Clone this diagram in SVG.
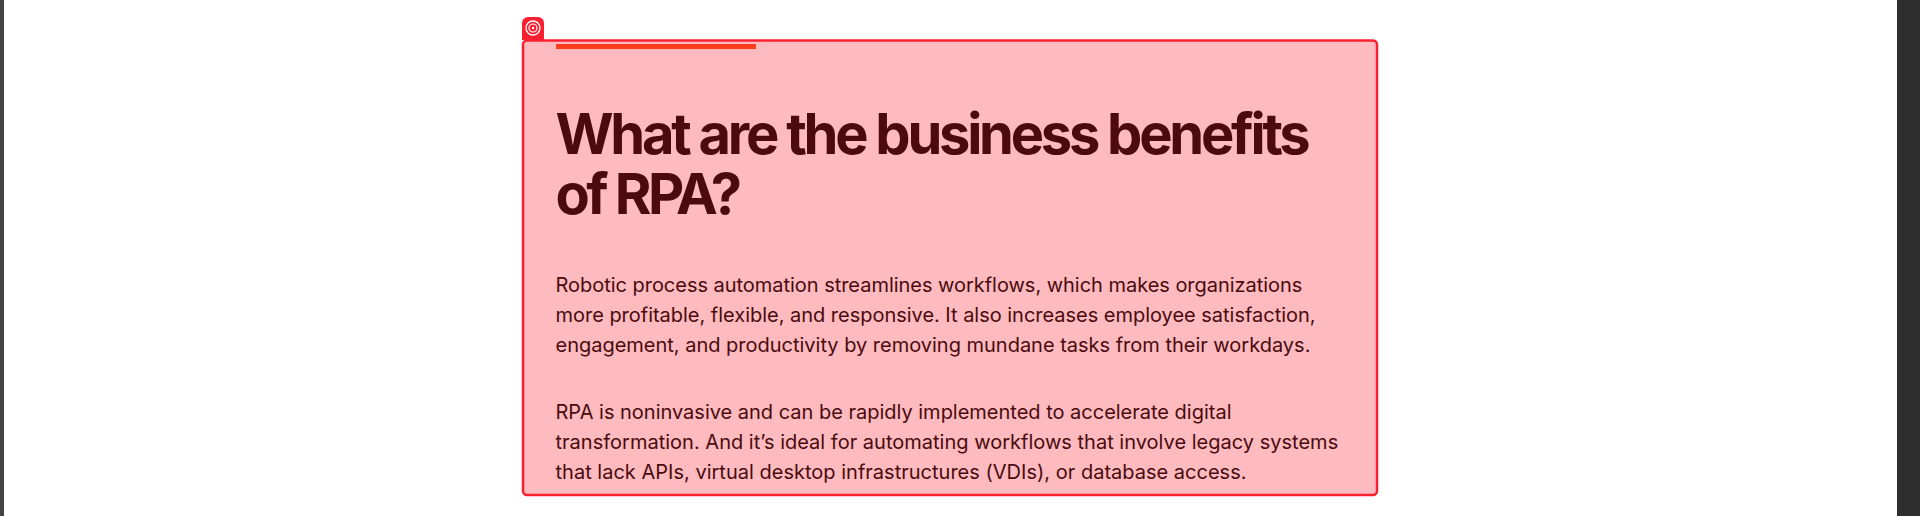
<svg xmlns="http://www.w3.org/2000/svg" width="1920" height="516" viewBox="0 0 1920 516">
<style>
.h{font-family:Inter,"Liberation Sans",sans-serif;font-weight:700;font-size:56px;fill:#4a0a0e}
.b{font-family:Inter,"Liberation Sans",sans-serif;font-weight:400;font-size:20px;fill:#4a0a0e}
</style>
<rect width="1920" height="516" fill="#fff"/>
<rect x="0" y="0" width="4" height="516" fill="#444"/>
<rect x="1897" y="0" width="23" height="516" fill="#2e2e2e"/>
<g id="card">
<rect x="523" y="40.500" width="854" height="454.500" rx="4" fill="#fdbabf" stroke="#fa2030" stroke-width="2.500"/>
<rect x="556" y="44" width="200" height="5" fill="#ff3d1f"/>
<text class="h" x="555.500" y="154" letter-spacing="-3.24">What are the business benefits</text>
<text class="h" x="555.500" y="214" letter-spacing="-3.56">of RPA?</text>
<text class="b" x="555.500" y="292" letter-spacing="-0.03">Robotic process automation streamlines workflows, which makes organizations</text>
<text class="b" x="555.500" y="322" letter-spacing="-0.02">more profitable, flexible, and responsive. It also increases employee satisfaction,</text>
<text class="b" x="555.500" y="352" letter-spacing="-0.01">engagement, and productivity by removing mundane tasks from their workdays.</text>
<text class="b" x="555.500" y="419" letter-spacing="-0.01">RPA is noninvasive and can be rapidly implemented to accelerate digital</text>
<text class="b" x="555.500" y="449" letter-spacing="0.01">transformation. And it’s ideal for automating workflows that involve legacy systems</text>
<text class="b" x="555.500" y="479" letter-spacing="0.01">that lack APIs, virtual desktop infrastructures (VDIs), or database access.</text>
</g>
<g id="icon">
<path d="M522 40V23a6 6 0 0 1 6-6h10a6 6 0 0 1 6 6v17z" fill="#fa2030"/>
<circle cx="533" cy="28" r="7" fill="none" stroke="#fff" stroke-width="1.300"/>
<circle cx="533" cy="28" r="4" fill="none" stroke="#fff" stroke-width="1.200"/>
<circle cx="533" cy="28" r="1.200" fill="#fff"/>
</g>
</svg>
